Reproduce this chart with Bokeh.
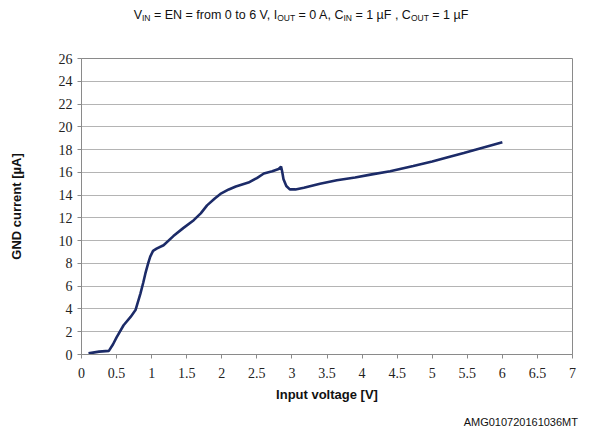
from bokeh.plotting import figure
from bokeh.models import FixedTicker, Range1d, Div
from bokeh.layouts import column
from bokeh.embed import file_html
from bokeh.resources import INLINE

# ---- data ----
voltage = [0.1, 0.25, 0.39, 0.45, 0.5, 0.6, 0.7, 0.77, 0.84, 0.88, 0.91, 0.95,
           0.98, 1.02, 1.07, 1.17, 1.31, 1.45, 1.6, 1.7, 1.79, 1.9, 1.98, 2.1,
           2.2, 2.38, 2.5, 2.6, 2.72, 2.81, 2.845, 2.86, 2.88, 2.92, 2.97, 3.05,
           3.17, 3.4, 3.64, 3.9, 4.12, 4.4, 4.73, 5.0, 5.21, 5.45, 5.68, 6.0]
gnd_current = [0.1, 0.25, 0.32, 0.9, 1.5, 2.57, 3.3, 3.9, 5.35, 6.3, 7.1, 8.0,
               8.6, 9.1, 9.3, 9.6, 10.4, 11.1, 11.8, 12.4, 13.1, 13.7, 14.1, 14.5,
               14.75, 15.1, 15.5, 15.9, 16.1, 16.3, 16.5, 16.1, 15.4, 14.8, 14.5, 14.5,
               14.65, 15.0, 15.3, 15.55, 15.8, 16.1, 16.55, 16.95, 17.3, 17.7, 18.1, 18.65]
x_ticks = [0, 0.5, 1, 1.5, 2, 2.5, 3, 3.5, 4, 4.5, 5, 5.5, 6, 6.5, 7]
x_tick_labels = ["0", "0.5", "1", "1.5", "2", "2.5", "3", "3.5", "4", "4.5",
                 "5", "5.5", "6", "6.5", "7"]
y_ticks = [0, 2, 4, 6, 8, 10, 12, 14, 16, 18, 20, 22, 24, 26]
title_parts = [("V", False), ("IN", True), (" = EN = from 0 to 6 V, I", False),
               ("OUT", True), (" = 0 A, C", False), ("IN", True),
               (" = 1 µF , C", False), ("OUT", True), (" = 1 µF", False)]
x_label = "Input voltage [V]"
y_label = "GND current [µA]"
note = "AMG010720161036MT"

# ---- layout ----
W, H = 594, 432
TITLE_H, NOTE_H = 30, 18
PH = H - TITLE_H - NOTE_H
FRAME_L, FRAME_R, FRAME_T, FRAME_B = 81, 572, 58, 354
BL, BR = FRAME_L, W - FRAME_R
BT = FRAME_T - TITLE_H
BB = (TITLE_H + PH) - FRAME_B

p = figure(width=W, height=PH, output_backend="svg", toolbar_location=None,
           x_range=Range1d(0, 7), y_range=Range1d(0, 26),
           min_border_left=BL, min_border_right=BR, min_border_top=BT,
           min_border_bottom=BB, background_fill_color="white",
           border_fill_color="white", outline_line_color="#8a8a8a")

p.line(voltage, gnd_current, line_color="#1c2b68", line_width=2.6)

GRAY = "#8a8a8a"
p.xgrid.visible = False
p.ygrid.ticker = FixedTicker(ticks=y_ticks)
p.ygrid.grid_line_color = "#b4b4b4"
p.ygrid.grid_line_width = 1

p.xaxis.ticker = FixedTicker(ticks=x_ticks)
p.xaxis.major_label_overrides = {t: l for t, l in zip(x_ticks, x_tick_labels)}
p.yaxis.ticker = FixedTicker(ticks=y_ticks)
for ax in (p.xaxis, p.yaxis):
    ax.axis_line_color = GRAY
    ax.major_tick_line_color = GRAY
    ax.major_tick_in = 0
    ax.major_tick_out = 4
    ax.minor_tick_line_color = None
    ax.major_label_text_font = "Liberation Serif"
    ax.major_label_text_font_size = "14px"
    ax.major_label_text_color = "#222222"
    ax.axis_label_text_font = "Liberation Sans"
    ax.axis_label_text_font_style = "bold"
    ax.axis_label_text_font_size = "13px"
    ax.axis_label_text_color = "#111111"
p.xaxis.axis_label = x_label
p.yaxis.axis_label = y_label
p.xaxis.major_label_standoff = 9
p.xaxis.axis_label_standoff = 6
p.yaxis.major_label_standoff = 5
p.yaxis.axis_label_standoff = 32

# ---- title with subscripts and the footnote ----
html = "".join(
    f'<sub style="font-size:8.5px;vertical-align:-2px">{t}</sub>' if sub else t
    for t, sub in title_parts)
title_div = Div(text=f'<div style="width:{W}px;text-align:center;'
                     f'font-family:\'Liberation Sans\';font-size:12.5px;'
                     f'color:#111;padding-top:8px;line-height:15px;'
                     f'padding-left:8px;box-sizing:border-box;'
                     f'white-space:nowrap">{html}</div>',
                width=W, height=TITLE_H, margin=0)
note_div = Div(text=f'<div style="width:{W}px;text-align:right;'
                    f'font-family:\'Liberation Sans\';font-size:11px;'
                    f'color:#111;line-height:13px;padding-top:2px;'
                    f'padding-right:16px;box-sizing:border-box">{note}</div>',
               width=W, height=NOTE_H, margin=0)

layout = column(title_div, p, note_div, spacing=0)

open("out.html", "w").write(file_html(layout, INLINE))
